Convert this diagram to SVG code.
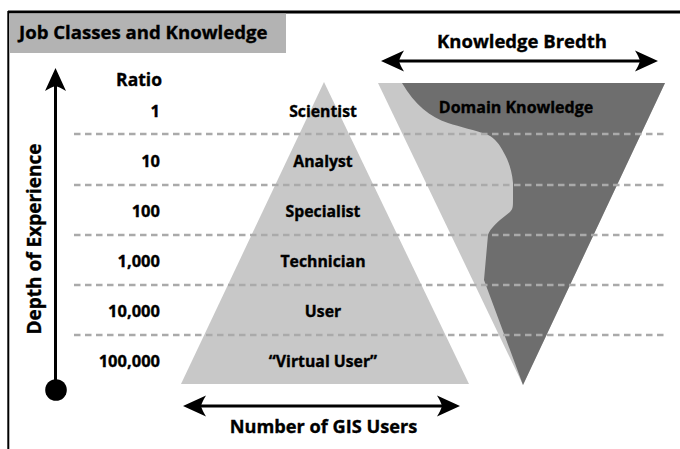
<svg xmlns="http://www.w3.org/2000/svg" width="680" height="449" viewBox="0 0 680 449">
<style>
text{font-family:"Open Sans","Noto Sans","Liberation Sans",sans-serif;font-weight:bold;fill:#000;stroke:#000;stroke-width:0.35px}
.lbl{font-size:15.8px;text-anchor:middle}
.num{font-size:16.5px;text-anchor:end}
.dash{stroke:#aaaaaa;stroke-width:2.6;stroke-dasharray:6.5 4.5;fill:none}
.arr{stroke:#000;stroke-width:3;fill:none}
</style>
<defs>
<marker id="ah" markerUnits="userSpaceOnUse" markerWidth="30" markerHeight="26" viewBox="-26 -13 30 26" refX="-10" refY="0" orient="auto-start-reverse">
<path d="M0,0 L-23,-10.5 Q-19,-4 -18,0 Q-19,4 -23,10.5 Z" fill="#000"/>
</marker>
</defs>
<g id="frame">
<line x1="8" y1="12" x2="680" y2="12" stroke="#000" stroke-width="3"/>
<line x1="8.3" y1="11" x2="8.3" y2="449" stroke="#000" stroke-width="2"/>
</g>
<g id="title">
<rect x="9" y="13.5" width="277" height="39.5" fill="#b3b3b3"/>
<text x="19" y="38.5" style="font-size:18.6px">Job Classes and Knowledge</text>
</g>
<g id="pyramid">
<polygon points="324,82 469,384 181,384" fill="#c8c8c8"/>
</g>
<g id="knowledge">
<polygon points="378,83 665,83 523,385" fill="#c8c8c8"/>
<path d="M402,83 L665,83 L523,385 L484,280 L488,235 C489,231 494,225 500,220 L510,212 C513,209 513,206 513,200 L513,183 C512,170 508,160 504,153 C500,145 495,138 488,135 C475,130 460,127 448,123 C430,117 415,105 402,83 Z" fill="#6e6e6e"/>
<text x="516" y="113" class="lbl" style="font-size:16px">Domain Knowledge</text>
</g>
<g id="connectors">
<line class="dash" x1="74" y1="134" x2="664" y2="134"/>
<line class="dash" x1="74" y1="185" x2="664" y2="185"/>
<line class="dash" x1="74" y1="235" x2="664" y2="235"/>
<line class="dash" x1="74" y1="285" x2="664" y2="285"/>
<line class="dash" x1="74" y1="335" x2="664" y2="335"/>
<line class="arr" x1="55.5" y1="390" x2="55.5" y2="78" marker-end="url(#ah)"/>
<circle cx="56" cy="390" r="10.8" fill="#000"/>
<line class="arr" x1="391" y1="61" x2="648" y2="61" marker-start="url(#ah)" marker-end="url(#ah)"/>
<line class="arr" x1="193" y1="406" x2="450" y2="406" marker-start="url(#ah)" marker-end="url(#ah)"/>
</g>
<g id="axis-labels">
<text x="522" y="48" class="lbl" style="font-size:18.5px">Knowledge Bredth</text>
<text x="323.5" y="433" class="lbl" style="font-size:18.2px">Number of GIS Users</text>
<text transform="translate(41,239) rotate(-90)" class="lbl" style="font-size:19px">Depth of Experience</text>
<text x="162" y="86" class="num" style="font-size:17.5px">Ratio</text>
</g>
<g id="row-scientist"><text x="160" y="117" class="num">1</text><text x="323" y="117" class="lbl">Scientist</text></g>
<g id="row-analyst"><text x="160" y="167" class="num">10</text><text x="323" y="167" class="lbl">Analyst</text></g>
<g id="row-specialist"><text x="160" y="217" class="num">100</text><text x="323" y="217" class="lbl">Specialist</text></g>
<g id="row-technician"><text x="160" y="267" class="num">1,000</text><text x="323" y="267" class="lbl">Technician</text></g>
<g id="row-user"><text x="160" y="317" class="num">10,000</text><text x="323" y="317" class="lbl">User</text></g>
<g id="row-virtual"><text x="160" y="367" class="num">100,000</text><text x="323" y="367" class="lbl">“Virtual User”</text></g>
</svg>
